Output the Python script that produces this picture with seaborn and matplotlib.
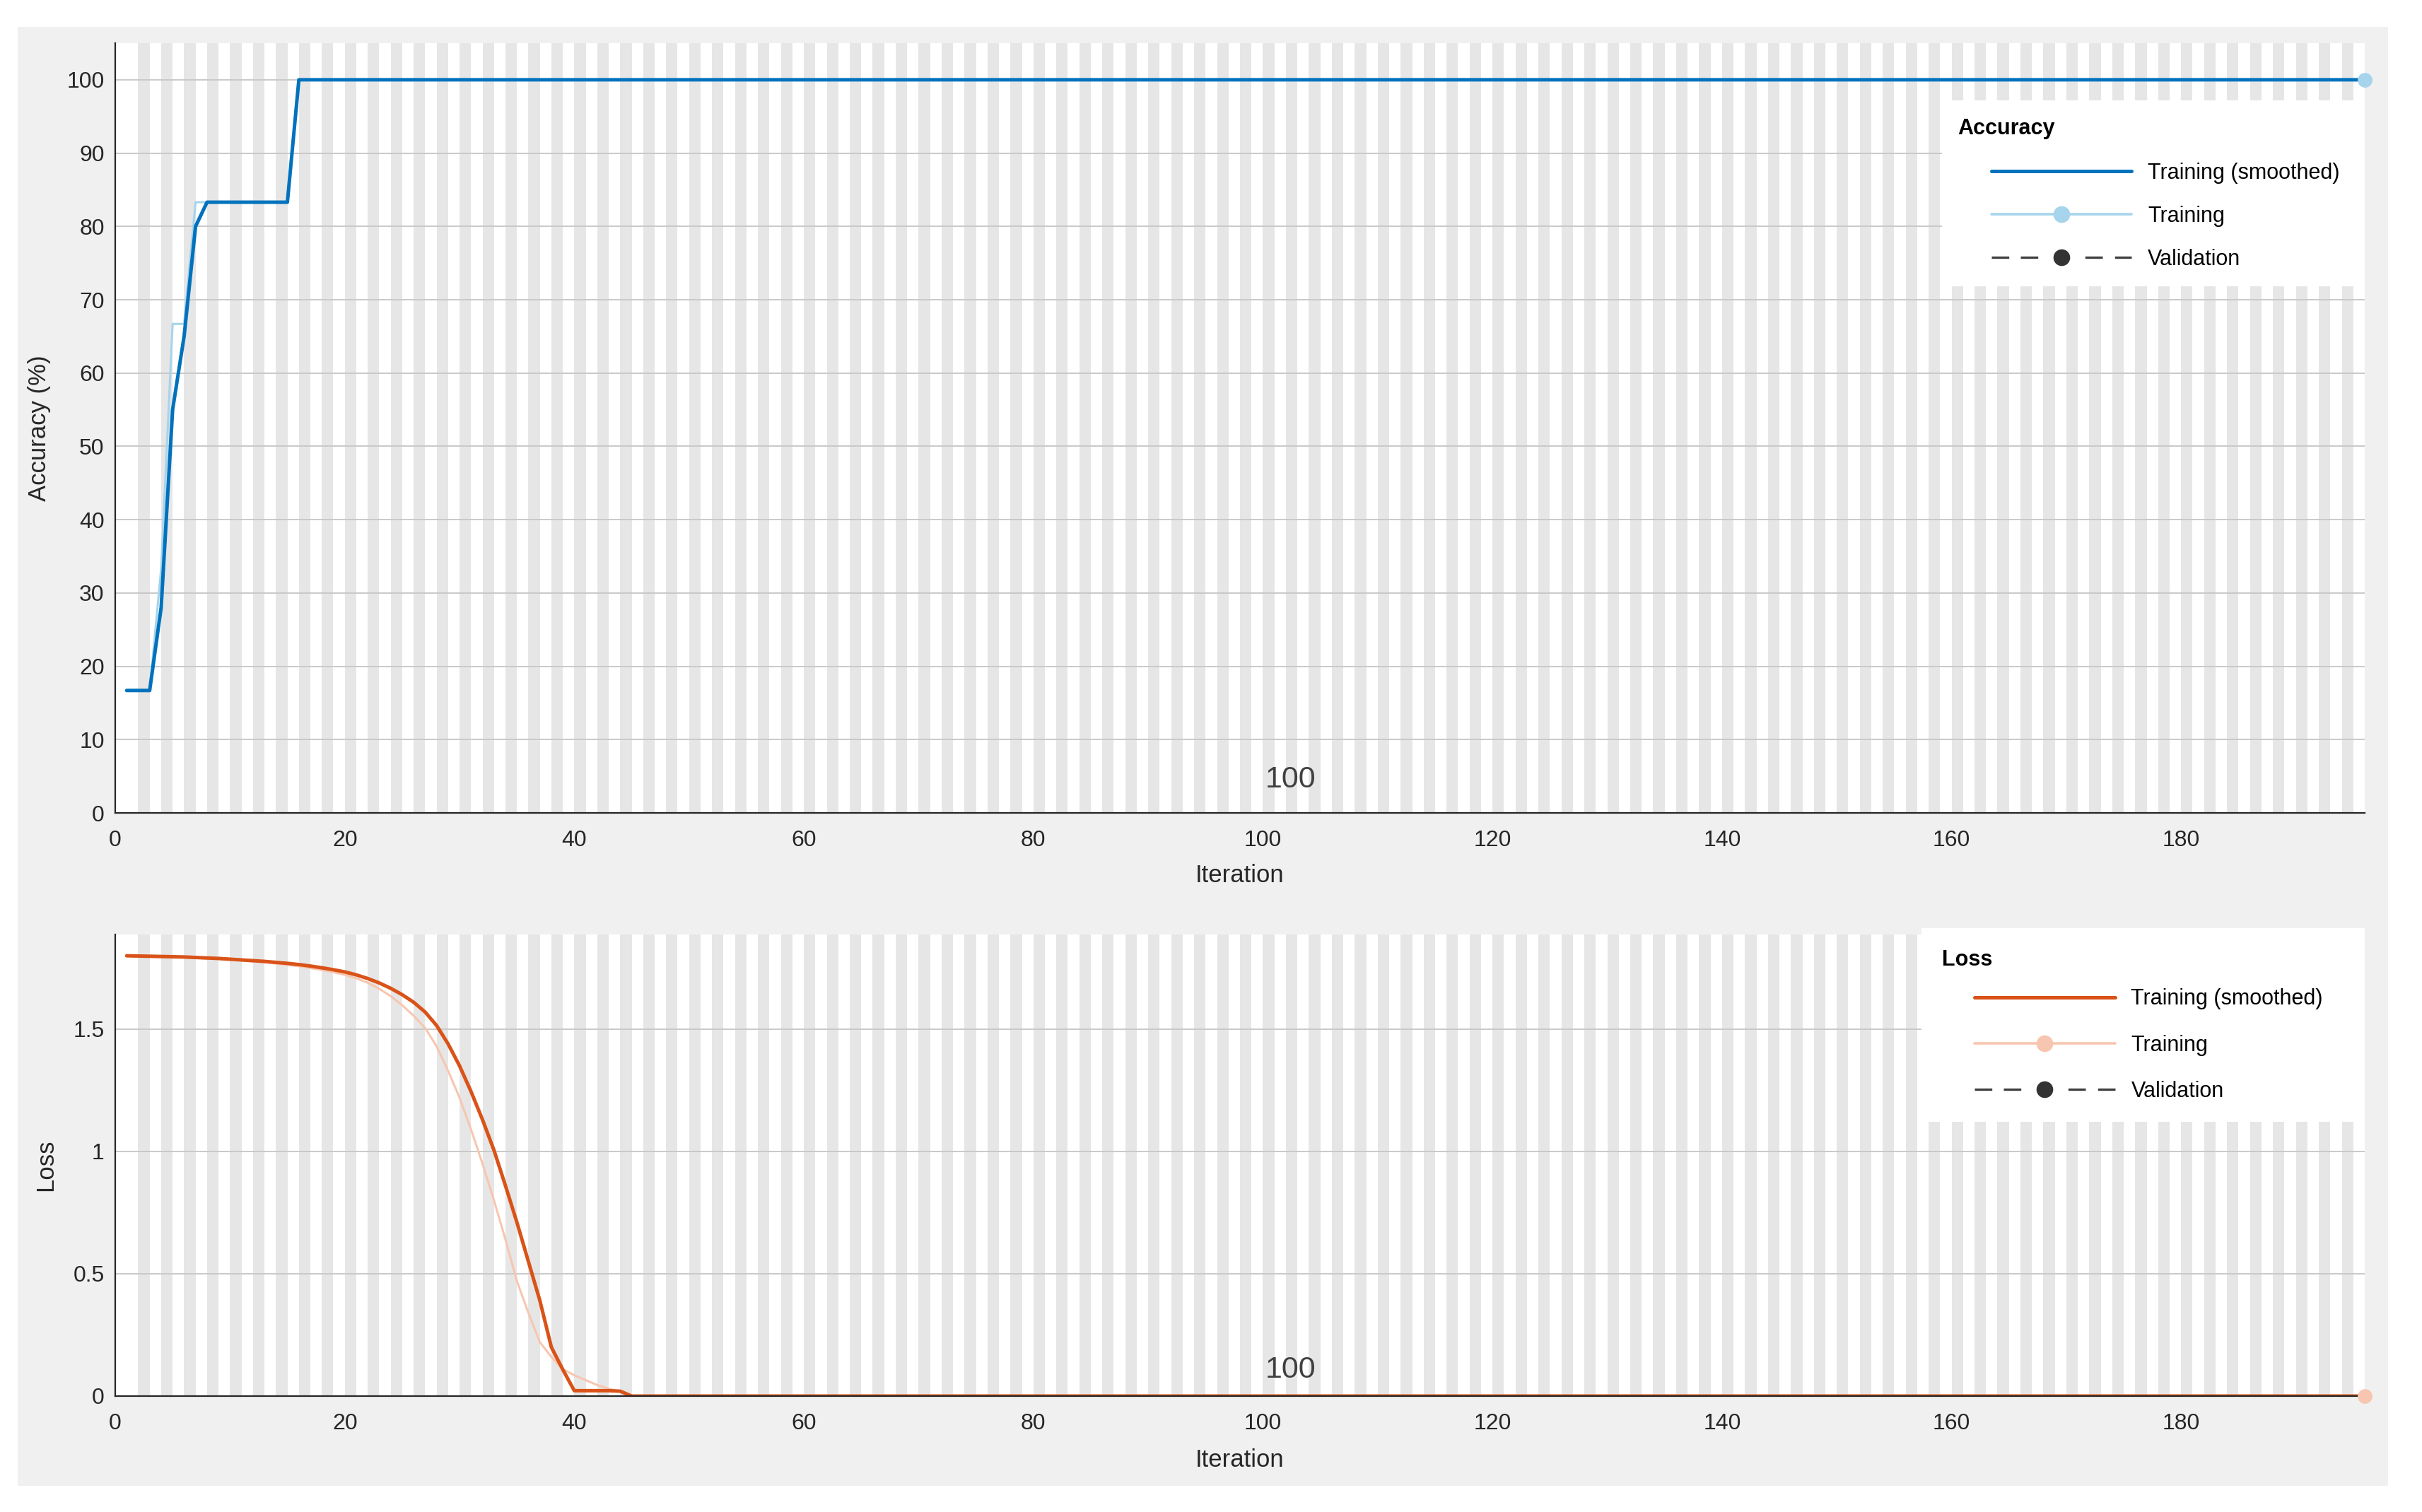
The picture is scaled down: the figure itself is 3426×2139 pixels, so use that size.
import numpy as np
import pandas as pd
import matplotlib
matplotlib.use("Agg")
import matplotlib.pyplot as plt
from matplotlib.patches import Rectangle
from matplotlib.lines import Line2D
import seaborn as sns

sns.set_style("white")
plt.rcParams['font.family'] = ['Liberation Sans', 'DejaVu Sans']

# ---------------- data ----------------
n_iter = 196
iterations = list(range(1, n_iter + 1))

acc_smoothed_head = [16.7, 16.7, 16.7, 28.0, 55.0, 65.0, 80.0, 83.3, 83.3, 83.3,
                     83.3, 83.3, 83.3, 83.3, 83.3]
acc_smoothed = acc_smoothed_head + [100.0] * (n_iter - len(acc_smoothed_head))

acc_raw_head = [16.7, 16.7, 16.7, 33.3, 66.7, 66.7, 83.3, 83.3, 83.3, 83.3,
                83.3, 83.3, 83.3, 83.3, 83.3]
acc_raw = acc_raw_head + [100.0] * (n_iter - len(acc_raw_head))

loss_smoothed_head = [1.800, 1.799, 1.798, 1.797, 1.796, 1.795, 1.793, 1.791, 1.789, 1.786,
                      1.783, 1.780, 1.777, 1.773, 1.769, 1.764, 1.758, 1.751, 1.743, 1.734,
                      1.722, 1.707, 1.689, 1.667, 1.641, 1.610, 1.570, 1.515, 1.440, 1.350,
                      1.245, 1.130, 1.005, 0.860, 0.710, 0.550, 0.390, 0.200, 0.108, 0.022,
                      0.022, 0.022, 0.022, 0.020]
loss_smoothed = loss_smoothed_head + [0.0] * (n_iter - len(loss_smoothed_head))

loss_raw_head = [1.800, 1.799, 1.797, 1.796, 1.795, 1.793, 1.791, 1.789, 1.787, 1.784,
                 1.781, 1.777, 1.773, 1.768, 1.763, 1.757, 1.750, 1.742, 1.733, 1.722,
                 1.708, 1.690, 1.665, 1.635, 1.598, 1.555, 1.505, 1.430, 1.330, 1.220,
                 1.090, 0.950, 0.800, 0.640, 0.470, 0.340, 0.220, 0.160, 0.110, 0.085,
                 0.065, 0.045, 0.030, 0.018]
loss_raw = loss_raw_head + [0.0] * (n_iter - len(loss_raw_head))

epoch_label = "100"
acc_ticks = [0, 10, 20, 30, 40, 50, 60, 70, 80, 90, 100]
loss_ticks = [0, 0.5, 1, 1.5]
loss_ticklabels = ["0", "0.5", "1", "1.5"]
x_ticks = [0, 20, 40, 60, 80, 100, 120, 140, 160, 180]

df = pd.DataFrame({"Iteration": iterations,
                   "acc_s": acc_smoothed, "acc_r": acc_raw,
                   "loss_s": loss_smoothed, "loss_r": loss_raw})

# ---------------- style ----------------
W, H = 3426, 2139
DPI = 100
fig = plt.figure(figsize=(W / DPI, H / DPI), dpi=DPI, facecolor="white")
fig.patches.append(Rectangle((25 / W, 1 - 2102 / H), (3378 - 25) / W, (2102 - 38) / H,
                             transform=fig.transFigure, facecolor="#f0f0f0",
                             edgecolor="none", zorder=-10))

ax_l = 163 / W
ax_w = (3345 - 163) / W
ax1 = fig.add_axes([ax_l, 1 - 1150 / H, ax_w, (1150 - 61) / H])
ax2 = fig.add_axes([ax_l, 1 - 1975 / H, ax_w, (1975 - 1322) / H])

DARK = "#262626"
C_ACC_S = "#0072BD"
C_ACC_R = "#a6d4ec"
C_LOSS_S = "#D95319"
C_LOSS_R = "#f7c6b0"
STRIPE = "#e6e6e6"
TICK_FS = 23


def style_axes(ax, ylim, yticks, yticklabels=None):
    ax.set_facecolor("white")
    ax.set_xlim(0, n_iter)
    ax.set_ylim(*ylim)
    # epoch stripes
    for s in range(2, n_iter, 2):
        ax.axvspan(s, min(s + 1, n_iter), color=STRIPE, lw=0, zorder=0.2)
    ax.set_axisbelow(True)
    ax.yaxis.grid(True, color="#c9c9c9", lw=1.4)
    ax.xaxis.grid(False)
    for sp in ["top", "right"]:
        ax.spines[sp].set_visible(False)
    for sp in ["left", "bottom"]:
        ax.spines[sp].set_color(DARK)
        ax.spines[sp].set_linewidth(1.6)
        ax.spines[sp].set_zorder(5)
    ax.set_xticks(x_ticks)
    ax.set_yticks(yticks)
    if yticklabels is not None:
        ax.set_yticklabels(yticklabels)
    ax.tick_params(axis="both", direction="in", length=21, width=1.4, color=DARK,
                   labelcolor=DARK, labelsize=TICK_FS)
    ax.tick_params(axis="y", pad=11)
    ax.tick_params(axis="x", pad=17)


style_axes(ax1, (0, 105), acc_ticks)
style_axes(ax2, (0, 1.887), loss_ticks, loss_ticklabels)

# lines
sns.lineplot(data=df, x="Iteration", y="acc_r", ax=ax1, color=C_ACC_R, lw=2.2, zorder=3)
sns.lineplot(data=df, x="Iteration", y="acc_s", ax=ax1, color=C_ACC_S, lw=3.6, zorder=4)
sns.lineplot(data=df, x="Iteration", y="loss_r", ax=ax2, color=C_LOSS_R, lw=2.2, zorder=3)
sns.lineplot(data=df, x="Iteration", y="loss_s", ax=ax2, color=C_LOSS_S, lw=3.6, zorder=4)
ax1.plot([iterations[-1]], [acc_raw[-1]], "o", color=C_ACC_R, ms=14, zorder=6, clip_on=False)
ax2.plot([iterations[-1]], [loss_raw[-1]], "o", color=C_LOSS_R, ms=14, zorder=6, clip_on=False)

# labels
for ax, ylab, ycoord_x, xcoord_y in [(ax1, "Accuracy (%)", -0.0339, -0.0817),
                                     (ax2, "Loss", -0.0308, -0.138)]:
    ax.set_xlabel("Iteration", fontsize=25, color=DARK)
    ax.set_ylabel(ylab, fontsize=25, color=DARK)
    ax.xaxis.set_label_coords(0.5, xcoord_y)
    ax.xaxis.label.set_va("center")
    ax.yaxis.set_label_coords(ycoord_x, 0.5)
    ax.yaxis.label.set_va("center")

# epoch annotation
ax1.text(100.2, 4.5, epoch_label, fontsize=31, color="#404040", ha="left", va="center", zorder=6)
ax2.text(100.2, 0.107, epoch_label, fontsize=31, color="#404040", ha="left", va="center", zorder=6)

VAL_DASH = (0, (7.4, 4.9, 7.4, 20.0, 7.4, 5.2, 7.4, 6.0))


def draw_legend(ax, box, title, title_xy, entries_xy, c_s, c_r, spacing):
    x0, y0, x1, y1 = box
    ax.add_patch(Rectangle((x0, y0), x1 - x0, y1 - y0, transform=ax.transAxes,
                           facecolor="white", edgecolor="none", zorder=2, clip_on=False))
    ax.text(title_xy[0], title_xy[1], title, transform=ax.transAxes, fontsize=22,
            fontweight="bold", color="black", ha="left", va="center", zorder=7)
    handles = [
        Line2D([], [], color=c_s, lw=3.6),
        Line2D([], [], color=c_r, lw=2.6, marker="o", ms=16),
        Line2D([], [], color="#404040", lw=2.4, ls=VAL_DASH, marker="o", ms=16,
               markerfacecolor="#333333", markeredgecolor="#333333"),
    ]
    labels = ["Training (smoothed)", "Training", "Validation"]
    leg = ax.legend(handles, labels, loc="upper left", bbox_to_anchor=entries_xy,
                    frameon=False, fontsize=22, handlelength=6.5, handletextpad=0.75,
                    numpoints=1, borderpad=0, borderaxespad=0, labelspacing=spacing)
    leg.set_zorder(7)
    for t in leg.get_texts():
        t.set_color("black")


draw_legend(ax1, (0.812, 0.684, 1.0, 0.926), "Accuracy", (0.819, 0.889),
            (0.834, 0.845), C_ACC_S, C_ACC_R, 1.02)
draw_legend(ax2, (0.803, 0.594, 1.0, 1.014), "Loss", (0.812, 0.945),
            (0.8265, 0.883), C_LOSS_S, C_LOSS_R, 1.15)

fig.savefig("out.png", dpi=DPI, facecolor="white")
